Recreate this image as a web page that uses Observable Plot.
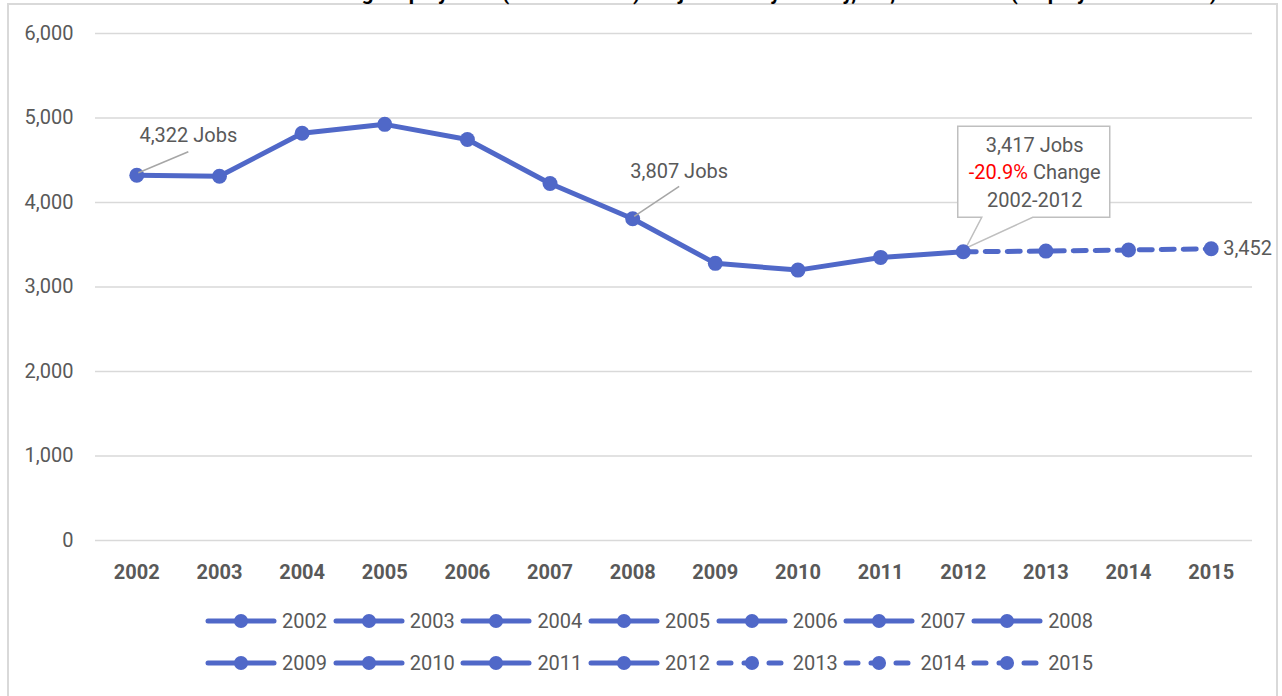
<!DOCTYPE html>
<html>
<head>
<meta charset="utf-8">
<script src="https://cdn.jsdelivr.net/npm/d3@7"></script>
<script src="https://cdn.jsdelivr.net/npm/@observablehq/plot@0.6"></script>
<style>
  html, body { margin: 0; padding: 0; background: #fff; }
  body { width: 1282px; height: 696px; position: relative; overflow: hidden; font-family: Roboto, "Liberation Sans", sans-serif; }
  #frame { position: absolute; left: 7px; top: 3px; width: 1271px; height: 700px; border: 2px solid #d9d9d9; box-sizing: border-box; }
  #title { position: absolute; left: 0; width: 1282px; top: -19px; text-align: center; padding-left: 170px; box-sizing: border-box; font-weight: bold; font-size: 21px; color: #000; white-space: nowrap; }
  #chart { position: absolute; left: 0; top: 0; }
  #legend { position: absolute; left: 205px; top: 600px; }
  .row { display: flex; height: 42px; align-items: center; }
  .item { display: flex; align-items: center; width: 127.7px; }
  .item span { font-size: 20px; color: #595959; margin-left: 5px; }
</style>
</head>
<body>
<div id="frame"></div>
<div id="title">Manufacturing Employment (NAICS 31-33) Projections by County, NC, 2002-2015 (Employment in Jobs)</div>
<div id="chart"></div>
<div id="legend"></div>
<script>
const years = ["2002","2003","2004","2005","2006","2007","2008","2009","2010","2011","2012","2013","2014","2015"];
const jobs  = [4322, 4310, 4820, 4925, 4745, 4225, 3807, 3280, 3200, 3350, 3417, 3425, 3438, 3452];
const projectedYears = ["2013","2014","2015"];
const yTicks = [0, 1000, 2000, 3000, 4000, 5000, 6000];
const legendRows = [years.slice(0, 7), years.slice(7)];

const color = "#5068c8";
const textColor = "#595959";
const rows = years.map((year, i) => ({year, jobs: jobs[i]}));
const solid = rows.filter(d => !projectedYears.includes(d.year));
const dashed = rows.filter(d => d.year >= "2012");
const fmt = d3.format(",");

function find(year) { return rows.find(d => d.year === year); }

// annotation mark drawn relative to a data point through the scales
function callout(year, draw) {
  return (index, scales) => {
    const d = find(year);
    const px = scales.x(d.year), py = scales.y(d.jobs);
    const g = d3.create("svg:g").attr("font-family", "Roboto, sans-serif").attr("font-size", 20).attr("fill", textColor);
    draw(g, px, py, d);
    return g.node();
  };
}

const leader = (year, tx, ty, lx, ly) => callout(year, (g, px, py, d) => {
  g.append("line").attr("x1", px + 2).attr("y1", py - 2).attr("x2", px + lx).attr("y2", py + ly)
    .attr("stroke", "#a6a6a6").attr("stroke-width", 1.5);
  g.append("text").attr("x", px + tx).attr("y", py + ty).attr("text-anchor", "middle").text(`${fmt(d.jobs)} Jobs`);
});

const first = find("2002").jobs, base = find("2012").jobs;
const pct = ((base - first) / first * 100).toFixed(1);

const box = callout("2012", (g, px, py, d) => {
  const x0 = px - 5, x1 = px + 147, y0 = py - 125, y1 = py - 34;
  g.append("path")
    .attr("d", `M${x0},${y0}H${x1}V${y1}H${px + 70}L${px + 3},${py - 3}L${px + 19},${y1}H${x0}Z`)
    .attr("fill", "#fff").attr("stroke", "#bfbfbf").attr("stroke-width", 1.5);
  const cx = px + 72;
  g.append("text").attr("x", cx).attr("y", py - 99).attr("text-anchor", "middle").text(`${fmt(d.jobs)} Jobs`);
  const t = g.append("text").attr("x", cx).attr("y", py - 72).attr("text-anchor", "middle");
  t.append("tspan").attr("fill", "#ff0000").text(`${pct}%`);
  t.append("tspan").text(" Change");
  g.append("text").attr("x", cx).attr("y", py - 44).attr("text-anchor", "middle").text(`${years[0]}-2012`);
});

const chart = Plot.plot({
  width: 1282,
  height: 600,
  marginLeft: 95,
  marginRight: 30,
  marginTop: 33,
  marginBottom: 60,
  style: {fontFamily: "Roboto, sans-serif", fontSize: "20px", color: textColor, background: "transparent"},
  x: {type: "point", domain: years, padding: 0.5, round: false, label: null},
  y: {domain: [0, 6000], label: null},
  marks: [
    Plot.ruleY(yTicks, {stroke: "#d9d9d9", strokeWidth: 1.5}),
    Plot.axisY(yTicks, {tickSize: 0, tickPadding: 22, tickFormat: fmt, fontSize: 20, label: null}),
    Plot.axisX({tickSize: 0, tickPadding: 24, fontWeight: "bold", fontSize: 20, label: null}),
    box,
    Plot.line(solid, {x: "year", y: "jobs", stroke: color, strokeWidth: 5, strokeLinecap: "round", strokeLinejoin: "round"}),
    Plot.line(dashed, {x: "year", y: "jobs", stroke: color, strokeWidth: 5, strokeDasharray: "13,9", strokeLinecap: "round"}),
    Plot.dot(rows, {x: "year", y: "jobs", r: 7.5, fill: color}),
    leader("2002", 52, -33, 52, -23),
    leader("2008", 47, -40, 47, -32),
    Plot.text([find("2015")], {x: "year", y: "jobs", text: d => fmt(d.jobs), textAnchor: "start", dx: 12, fill: textColor, fontSize: 20})
  ]
});
document.getElementById("chart").appendChild(chart);

// legend
const legend = d3.select("#legend");
for (const r of legendRows) {
  const row = legend.append("div").attr("class", "row");
  for (const y of r) {
    const item = row.append("div").attr("class", "item");
    const s = item.append("svg").attr("width", 72).attr("height", 20);
    const ln = s.append("line").attr("x1", 3).attr("x2", 69).attr("y1", 10).attr("y2", 10)
      .attr("stroke", color).attr("stroke-width", 5).attr("stroke-linecap", "round");
    if (projectedYears.includes(y)) ln.attr("stroke-dasharray", "12,13");
    s.append("circle").attr("cx", 36).attr("cy", 10).attr("r", 7).attr("fill", color);
    item.append("span").text(y);
  }
}
</script>
</body>
</html>
